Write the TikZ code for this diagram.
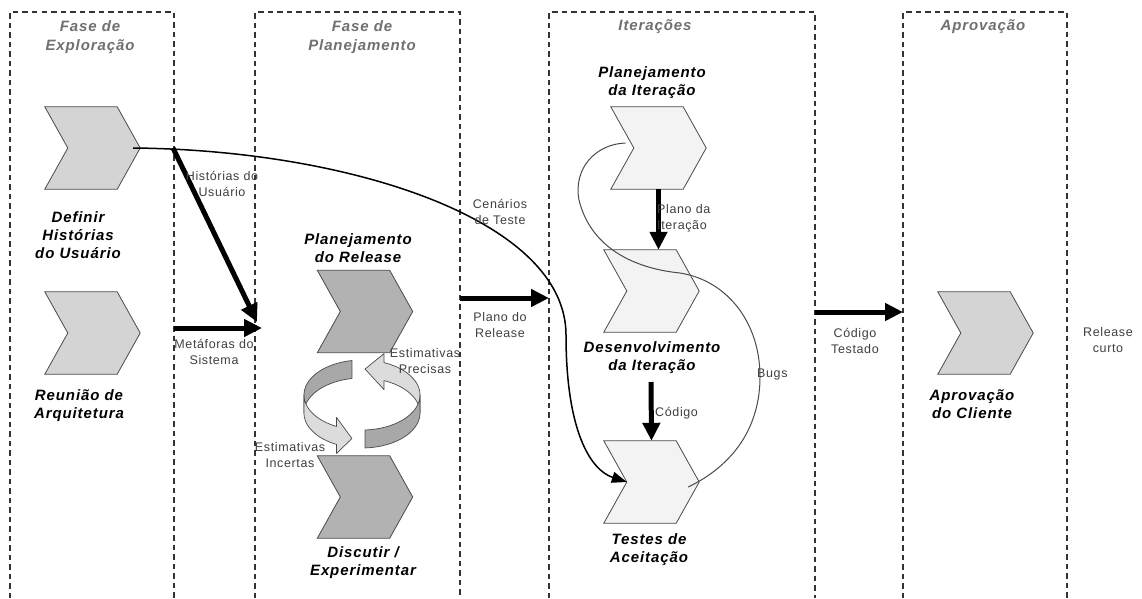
\documentclass[tikz,border=0pt]{standalone}
\usepackage{fontspec}
\setmainfont{Liberation Sans}
\newfontfamily\lblfont[LetterSpace=6]{Liberation Sans}
\newfontfamily\smlfont[LetterSpace=5]{Liberation Sans}
\usetikzlibrary{arrows.meta}
\definecolor{boxline}{HTML}{333333}
\definecolor{titlegray}{HTML}{707070}
\definecolor{smalltext}{HTML}{404040}
\definecolor{chevedge}{HTML}{4A4A4A}
\definecolor{chevlight}{HTML}{D4D4D4}
\definecolor{chevdark}{HTML}{B2B2B2}
\definecolor{chevpale}{HTML}{F3F3F3}
\definecolor{ringdark}{HTML}{A8A8A8}
\definecolor{ringlight}{HTML}{DCDCDC}
\newcommand{\mkchev}[4]{%
  \node[chevbox] (#1) at (#2,#3) {};
  \draw[chevline, fill=#4] (#1.north west) -- ([xshift=-23pt]#1.north east) -- (#1.east)
    -- ([xshift=-23pt]#1.south east) -- (#1.south west) -- ([xshift=23pt]#1.west) -- cycle;
}
\begin{document}
\begin{tikzpicture}[x=1pt,y=-1pt,
  phase/.style={draw=boxline, line width=1.3pt, dash pattern=on 5.5pt off 4pt},
  ttl/.style={text=titlegray, font=\lblfont\bfseries\itshape\fontsize{15}{19}\selectfont, align=center, inner sep=0pt},
  lbl/.style={text=black, font=\lblfont\bfseries\itshape\fontsize{15}{18}\selectfont, align=center, inner sep=0pt},
  sml/.style={text=smalltext, font=\smlfont\fontsize{12.5}{16}\selectfont, align=center, inner sep=0pt},
  chevbox/.style={minimum width=95pt, minimum height=82pt, inner sep=0pt, draw=none},
  chevline/.style={draw=chevedge, line width=0.8pt, line join=miter},
  flow/.style={line width=5pt, -{Triangle[length=18pt,width=17pt]}},
  thinflow/.style={line width=1.5pt, -{Triangle[length=15pt,width=11pt]}},
  feedback/.style={draw=chevedge, line width=1pt},
  ringline/.style={draw=chevedge, line width=0.7pt, line join=round}
]
\fill[white] (0,0) rectangle (1142,598);
\useasboundingbox (0,0) rectangle (1142,598);

% phase boxes (open at the bottom)
\draw[phase] (10,598) -- (10,12) -- (174,12) -- (174,598);
\draw[phase] (255,598) -- (255,12) -- (460,12) -- (460,598);
\draw[phase] (549,598) -- (549,12) -- (815,12) -- (815,598);
\draw[phase] (903,598) -- (903,12) -- (1067,12) -- (1067,598);

% titles
\node[ttl] (t1) at (90,37) {Fase de\\Exploração};
\node[ttl] (t2) at (362,37) {Fase de\\Planejamento};
\node[ttl] (t3) at (655,27) {Iterações};
\node[ttl] (t4) at (983,27) {Aprovação};

% chevrons
\mkchev{def}{92.5}{148}{chevlight}
\mkchev{reu}{92.5}{333}{chevlight}
\mkchev{plr}{365}{311.5}{chevdark}
\mkchev{dis}{365}{497}{chevdark}
\mkchev{pit}{658.5}{148}{chevpale}
\mkchev{dev}{651.5}{291}{chevpale}
\mkchev{tst}{651.5}{482}{chevpale}
\mkchev{apr}{985.5}{333}{chevlight}

% chevron labels
\node[lbl] (ldef) at (78,235.5) {Definir\\Histórias\\do Usuário};
\node[lbl] (lreu) at (79,405.5) {Reunião de\\Arquitetura};
\node[lbl] (lplr) at (358,248) {Planejamento\\do Release};
\node[lbl] (ldis) at (363,563) {Discutir /\\Experimentar};
\node[lbl] (lpit) at (652,83) {Planejamento\\da Iteração};
\node[lbl] (ldev) at (652,357.5) {Desenvolvimento\\da Iteração};
\node[lbl] (ltst) at (649,549.5) {Testes de\\Aceitação};
\node[lbl] (lapr) at (972,404.5) {Aprovação\\do Cliente};

% connector end points on the phase borders
\coordinate (b1top) at (173,148);
\coordinate (b2in) at (257,322);
\coordinate (b1mid) at (174,328);
\coordinate (b2mid) at (262,328);
\coordinate (b2out) at (460,298);
\coordinate (b3in) at (549,298);
\coordinate (b3out) at (815,312);
\coordinate (b4in) at (903,312);

% feedback "Bugs" curve (behind)
\draw[feedback] ([shift={(-11pt,-5pt)}]tst.east) .. controls (740,462) and (760,420) .. (760,377)
  .. controls (760,320) and (725,280) .. (680,273)
  .. controls (630,268) and (590,245) .. (579,200)
  .. controls (573,168) and (596,144) .. ([shift={(-33pt,5pt)}]pit.center);

% Cenarios de Teste curve
\draw[thinflow] ([xshift=-7pt]def.east) .. controls (350,150) and (566,220) .. (566,335)
  .. controls (566,430) and (590,470) .. ([xshift=23pt]tst.west);

% thick flows
\draw[flow] (b1top) -- (b2in);
\draw[flow] (b1mid) -- (b2mid);
\draw[flow] (b2out) -- (b3in);
\draw[flow] (pit.south) -- (pit.south |- dev.north);
\draw[flow] (651,382) -- (tst.north);
\draw[flow] (b3out) -- (b4in);

% estimation cycle ring
\begin{scope}[shift={(362,395)}, x=58pt, y=35pt]
  \filldraw[ringline, fill=ringdark] plot[domain=100:180, samples=30] ({cos(\x)},{sin(\x)})
    -- plot[domain=180:100, samples=30] ({cos(\x)},{sin(\x)-0.514}) -- cycle;
  \filldraw[ringline, fill=ringlight] plot[domain=0:67.7, samples=30] ({cos(\x)},{sin(\x)})
    -- (0.3795,1.182) -- (0.0523,0.742) -- (0.3795,0.154)
    -- plot[domain=67.7:0, samples=30] ({cos(\x)},{sin(\x)-0.514}) -- cycle;
  \filldraw[ringline, fill=ringlight] plot[domain=180:244, samples=30] ({cos(\x)},{sin(\x)})
    -- (-0.4384,-0.642) -- (-0.1736,-1.242) -- (-0.4384,-1.670)
    -- plot[domain=244:180, samples=30] ({cos(\x)},{sin(\x)-0.514}) -- cycle;
  \filldraw[ringline, fill=ringdark] plot[domain=273:360, samples=30] ({cos(\x)},{sin(\x)})
    -- plot[domain=360:273, samples=30] ({cos(\x)},{sin(\x)-0.514}) -- cycle;
\end{scope}

% small labels
\node[sml] (lhu) at (222,184) {Histórias do\\Usuário};
\node[sml] (lms) at (214,351.5) {Metáforas do\\Sistema};
\node[sml] (lct) at (500,211.5) {Cenários\\de Teste};
\node[sml] (lpr) at (500,325.5) {Plano do\\Release};
\node[sml] (lep) at (425,361) {Estimativas\\Precisas};
\node[sml] (lei) at (290,455.5) {Estimativas\\Incertas};
\node[sml, anchor=west, align=left] (lpi) at (657,218.5) {Plano da\\Iteração};
\node[sml, anchor=west] (lcod) at (655,413) {Código};
\node[sml, anchor=west] (lbug) at (757,374) {Bugs};
\node[sml] (lcte) at (855,341) {Código\\Testado};
\node[sml] (lrc) at (1108,340) {Release\\curto};
\end{tikzpicture}
\end{document}
